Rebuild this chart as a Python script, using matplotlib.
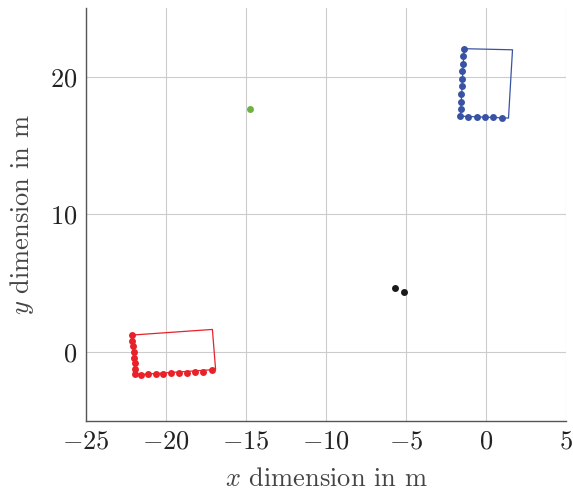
import matplotlib
matplotlib.use("Agg")
import matplotlib.pyplot as plt

plt.rcParams['font.family'] = 'serif'
plt.rcParams['font.serif'] = ['cmr10']
plt.rcParams['mathtext.fontset'] = 'cm'
plt.rcParams['axes.formatter.use_mathtext'] = True
plt.rcParams['axes.unicode_minus'] = True

# red group: measured points and outline
red_x = [-22.15, -22.1, -22.06, -22.02, -21.98, -21.96, -21.94, -21.92,
         -21.56, -21.1, -20.63, -20.17, -19.69, -19.19, -18.69, -18.17, -17.67, -17.14]
red_y = [1.24, 0.82, 0.44, 0.02, -0.39, -0.78, -1.19, -1.55,
         -1.67, -1.62, -1.6, -1.58, -1.53, -1.5, -1.48, -1.45, -1.41, -1.33]
red_box_x = [-22.15, -17.1, -16.9, -21.92, -22.15]
red_box_y = [1.24, 1.65, -1.26, -1.65, 1.24]

# blue group
blue_x = [-1.375, -1.42, -1.42, -1.48, -1.5, -1.52, -1.54, -1.56, -1.58, -1.6,
          -1.1, -0.58, -0.06, 0.46, 0.98]
blue_y = [22.04, 21.48, 20.95, 20.39, 19.85, 19.3, 18.74, 18.2, 17.67, 17.14,
          17.09, 17.07, 17.07, 17.07, 17.04]
blue_box_x = [-1.375, 1.65, 1.4, -1.6, -1.375]
blue_box_y = [22.04, 21.96, 17.0, 17.14, 22.04]

black_x = [-5.71, -5.14]
black_y = [4.63, 4.36]

green_x = [-14.73]
green_y = [17.67]

red = '#e82229'
blue = '#3953a4'
green = '#6cb33f'
black = '#1a1a1a'

fig = plt.figure(figsize=(5.73, 4.9), dpi=100)
ax = fig.add_axes([0.150, 0.1408, 0.838, 0.843])

ax.plot(red_box_x, red_box_y, color=red, lw=0.9)
ax.plot(red_x, red_y, 'o', color=red, ms=5, mec='none')
ax.plot(blue_box_x, blue_box_y, color=blue, lw=0.9)
ax.plot(blue_x, blue_y, 'o', color=blue, ms=5, mec='none')
ax.plot(black_x, black_y, 'o', color=black, ms=5, mec='none')
ax.plot(green_x, green_y, 'o', color=green, ms=5, mec='none')

ax.set_xlim(-25, 5)
ax.set_ylim(-5, 25)
ax.set_xticks([-25, -20, -15, -10, -5, 0, 5])
ax.set_yticks([0, 10, 20])
ax.grid(True, color='#cccccc', lw=0.8)
ax.set_axisbelow(True)
for s in ['top', 'right']:
    ax.spines[s].set_visible(False)
for s in ['left', 'bottom']:
    ax.spines[s].set_color('#555555')
    ax.spines[s].set_linewidth(1.0)
ax.tick_params(length=0, labelsize=19, colors='#222222', pad=6)

ax.set_xlabel('$x$ dimension in m', fontsize=19, color='#444444', labelpad=10)
ax.set_ylabel('$y$ dimension in m', fontsize=19, color='#444444', labelpad=10)

plt.savefig('out.png', dpi=100)
